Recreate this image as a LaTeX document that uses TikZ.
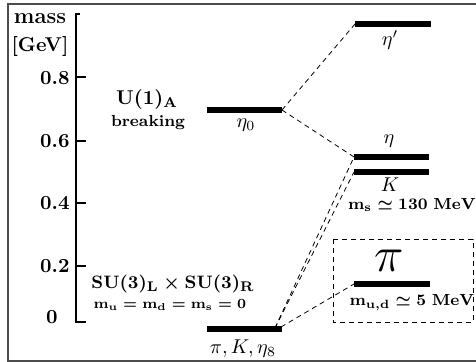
\documentclass[tikz,border=0pt]{standalone}
\usepackage{amsmath}
\newcommand{\bmth}[1]{{\mathversion{bold}$\mathbf{#1}$}}
\begin{document}
\begin{tikzpicture}[x=0.5pt,y=-0.5pt,
  lvl/.style={line width=3pt},
  conn/.style={line width=0.4pt,dash pattern=on 2.5pt off 2pt},
  axis/.style={line width=0.9pt},
  lab/.style={inner sep=0pt,font=\bfseries},
  mlab/.style={inner sep=0pt}]
\useasboundingbox (0,0) rectangle (476,362);
\draw[black!70,line width=0.7pt] (480,4) -- (8,4) -- (8,361) -- (480,361);
% axis
\draw[axis] (80,14) -- (76,14) -- (76,322) -- (86,322);
\foreach \yy in {77,141,203,266} \draw[axis] (76,\yy) -- (86,\yy);
\node[lab,font=\bfseries\fontsize{11}{13}\selectfont] (mass) at (40,19) {mass};
\node[lab] (gev) at (40,47) {[GeV]};
\node[lab,anchor=east] (t8) at (70,78) {0.8};
\node[lab,anchor=east] (t6) at (70,141) {0.6};
\node[lab,anchor=east] (t4) at (70,203) {0.4};
\node[lab,anchor=east] (t2) at (70,266) {0.2};
\node[lab,anchor=east] (t0) at (58,317) {0};
% level endpoints
\coordinate (e0L) at (207,110); \coordinate (e0R) at (282,110);
\coordinate (epL) at (355,24);  \coordinate (epR) at (431,24);
\coordinate (etL) at (354,157); \coordinate (etR) at (429,157);
\coordinate (kL) at (354,172);  \coordinate (kR) at (429,172);
\coordinate (piL) at (354,284); \coordinate (piR) at (430,284);
\coordinate (bL) at (207,329);  \coordinate (bR) at (282,329);
\coordinate (bA) at (275,328);  \coordinate (bB) at (281,327);
% levels
\draw[lvl] (e0L) -- (e0R);
\draw[lvl] (epL) -- (epR);
\draw[lvl] (etL) -- (etR);
\draw[lvl] (kL) -- (kR);
\draw[lvl] (piL) -- (piR);
\draw[lvl] (bL) -- (bR);
% connectors
\draw[conn] (e0R) -- (epL);
\draw[conn] (e0R) -- (etL);
\draw[conn] (bA) -- (etL);
\draw[conn] (bA) -- (kL);
\draw[conn] (bB) -- (piL);
% box
\draw[conn] (333,239) rectangle (473,322);
% labels
\node[mlab] (uone) at (147,100) {\bmth{U(1)_A}};
\node[lab,font=\bfseries\footnotesize] (brk) at (148,123) {breaking};
\node[mlab,font=\fontsize{9.5}{11}\selectfont] (su3) at (173,284) {\bmth{SU(3)_L\times SU(3)_R}};
\node[mlab,font=\fontsize{7.2}{8.5}\selectfont] (mq) at (170,305) {\bmth{m_u=m_d=m_s=0}};
\node[mlab] (eta0) at (246,125) {$\eta_0$};
\node[mlab] (pke) at (243,349) {$\pi,K,\eta_8$};
\node[mlab] (etap) at (390,40) {$\eta'$};
\node[mlab] (eta) at (389,141) {$\eta$};
\node[mlab] (kk) at (390,185) {$K$};
\node[mlab,font=\footnotesize] (ms) at (412,205) {\bmth{m_s\simeq 130\ MeV}};
\node[mlab,font=\Huge] (pibig) at (389,261) {$\pi$};
\node[mlab,font=\footnotesize] (mud) at (412,303) {\bmth{m_{u,d}\simeq 5\ MeV}};
\end{tikzpicture}
\end{document}
